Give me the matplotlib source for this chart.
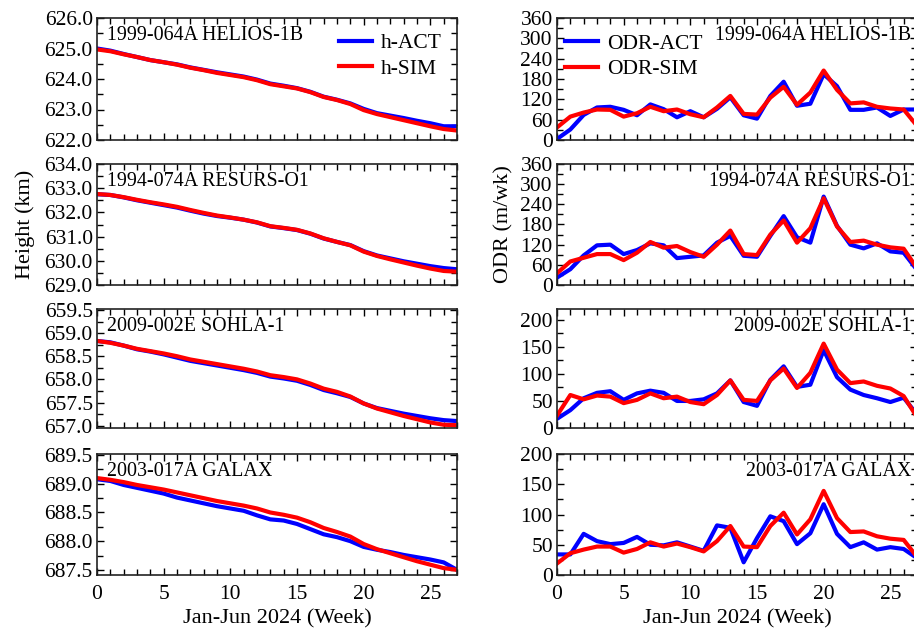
import matplotlib
matplotlib.use("Agg")
import matplotlib.pyplot as plt
from matplotlib.ticker import MultipleLocator, FormatStrFormatter

plt.rcParams["font.family"] = ["Liberation Serif", "DejaVu Serif"]

weeks = list(range(28))

sat_names = ["1999-064A HELIOS-1B", "1994-074A RESURS-O1",
             "2009-002E SOHLA-1", "2003-017A GALAX"]

# height (km)
h_act_helios = [625.00, 624.93, 624.82, 624.72, 624.62, 624.55, 624.48, 624.38, 624.30, 624.22,
                624.15, 624.08, 623.98, 623.85, 623.78, 623.70, 623.58, 623.42, 623.32, 623.20,
                623.02, 622.88, 622.80, 622.72, 622.63, 622.55, 622.45, 622.45]
h_sim_helios = [624.97, 624.91, 624.81, 624.72, 624.62, 624.55, 624.47, 624.37, 624.29, 624.20,
                624.13, 624.06, 623.96, 623.83, 623.76, 623.69, 623.57, 623.41, 623.31, 623.18,
                622.98, 622.85, 622.75, 622.65, 622.55, 622.45, 622.36, 622.31]
h_act_resurs = [632.75, 632.72, 632.62, 632.50, 632.40, 632.30, 632.20, 632.07, 631.95, 631.85,
                631.78, 631.70, 631.58, 631.42, 631.35, 631.27, 631.12, 630.92, 630.78, 630.65,
                630.40, 630.22, 630.10, 629.98, 629.88, 629.78, 629.70, 629.65]
h_sim_resurs = [632.76, 632.72, 632.63, 632.52, 632.42, 632.33, 632.23, 632.10, 631.98, 631.87,
                631.79, 631.70, 631.59, 631.43, 631.36, 631.28, 631.13, 630.93, 630.78, 630.64,
                630.38, 630.20, 630.06, 629.93, 629.80, 629.68, 629.58, 629.55]
h_act_sohla = [658.83, 658.80, 658.73, 658.65, 658.60, 658.54, 658.47, 658.40, 658.35, 658.30,
               658.25, 658.20, 658.14, 658.06, 658.02, 657.97, 657.88, 657.77, 657.70, 657.62,
               657.48, 657.38, 657.32, 657.26, 657.21, 657.16, 657.12, 657.10]
h_sim_sohla = [658.83, 658.79, 658.73, 658.66, 658.61, 658.56, 658.50, 658.43, 658.38, 658.33,
               658.28, 658.23, 658.17, 658.09, 658.05, 658.00, 657.91, 657.80, 657.73, 657.63,
               657.48, 657.37, 657.29, 657.21, 657.14, 657.07, 657.02, 657.01]
h_act_galax = [689.08, 689.05, 688.98, 688.93, 688.88, 688.83, 688.76, 688.71, 688.66, 688.61,
               688.57, 688.53, 688.45, 688.38, 688.36, 688.30, 688.21, 688.12, 688.07, 688.00,
               687.90, 687.85, 687.81, 687.76, 687.72, 687.68, 687.63, 687.50]
h_sim_galax = [689.10, 689.07, 689.03, 688.98, 688.94, 688.90, 688.85, 688.80, 688.75, 688.70,
               688.66, 688.62, 688.57, 688.50, 688.46, 688.41, 688.33, 688.23, 688.16, 688.08,
               687.95, 687.86, 687.79, 687.72, 687.65, 687.59, 687.53, 687.50]

# orbit decay rate (m/wk)
odr_act_helios = [3, 31, 74, 96, 98, 89, 73, 105, 91, 67, 85, 67, 92, 126, 73, 63, 130, 172, 101, 107,
                  194, 159, 89, 89, 96, 71, 90, 90]
odr_sim_helios = [37, 69, 81, 90, 89, 69, 79, 98, 85, 90, 76, 67, 96, 130, 77, 75, 125, 157, 104, 140,
                  205, 148, 108, 111, 98, 93, 90, 42]
odr_act_resurs = [22, 47, 88, 118, 120, 92, 104, 124, 118, 80, 84, 88, 126, 146, 87, 84, 146, 205, 142, 126,
                  263, 176, 120, 109, 124, 100, 96, 45]
odr_sim_resurs = [35, 70, 81, 92, 92, 74, 96, 128, 111, 116, 98, 84, 120, 162, 92, 89, 150, 192, 126, 169,
                  258, 174, 128, 132, 120, 112, 108, 50]
odr_act_sohla = [17, 33, 55, 65, 68, 52, 64, 69, 65, 50, 50, 53, 64, 88, 48, 41, 89, 114, 76, 80,
                 144, 94, 71, 61, 55, 48, 56, 25]
odr_sim_sohla = [23, 61, 53, 60, 58, 46, 52, 64, 55, 58, 48, 44, 61, 88, 52, 50, 88, 110, 74, 102,
                 156, 108, 83, 86, 78, 73, 59, 20]
odr_act_galax = [34, 34, 68, 56, 51, 53, 63, 50, 49, 54, 47, 40, 82, 78, 21, 61, 97, 89, 51, 69,
                 117, 68, 46, 54, 42, 46, 43, 28]
odr_sim_galax = [19, 36, 42, 47, 47, 37, 43, 54, 47, 52, 46, 39, 56, 81, 47, 46, 81, 103, 67, 92,
                 139, 94, 71, 72, 64, 60, 58, 30]

h_act = [h_act_helios, h_act_resurs, h_act_sohla, h_act_galax]
h_sim = [h_sim_helios, h_sim_resurs, h_sim_sohla, h_sim_galax]
odr_act = [odr_act_helios, odr_act_resurs, odr_act_sohla, odr_act_galax]
odr_sim = [odr_sim_helios, odr_sim_resurs, odr_sim_sohla, odr_sim_galax]

h_lims = [(622.0, 626.0), (629.0, 634.0), (656.95, 659.52), (687.41, 689.52)]
h_steps = [(1.0, 0.5), (1.0, 0.5), (0.5, 0.25), (0.5, 0.25)]
odr_lims = [(0, 360), (0, 360), (0, 220), (0, 200)]
odr_steps = [(60, 30), (60, 30), (50, 25), (50, 25)]

W, H = 914, 628
rows_px = [(18, 140), (164, 285), (309, 428), (454, 575)]
FS = 15.5
FS_NAME = 14.4
BLUE, RED = "#0000ff", "#ff0000"


def style(ax, major, minor, fmt):
    ax.set_xlim(0, 27)
    ax.xaxis.set_major_locator(MultipleLocator(5))
    ax.xaxis.set_minor_locator(MultipleLocator(1))
    ax.yaxis.set_major_locator(MultipleLocator(major))
    ax.yaxis.set_minor_locator(MultipleLocator(minor))
    ax.yaxis.set_major_formatter(FormatStrFormatter(fmt))
    ax.tick_params(which="both", direction="in", top=True, right=True, labelsize=FS,
                   width=1.0, pad=3)
    ax.tick_params(axis="x", which="both", pad=7)
    ax.tick_params(which="major", length=5)
    ax.tick_params(which="minor", length=4)
    for s in ax.spines.values():
        s.set_linewidth(1.2)
        s.set_color("#222222")


fig = plt.figure(figsize=(W / 100, H / 100), dpi=100)

for i, (top, bot) in enumerate(rows_px):
    y0 = 1 - bot / H
    hh = (bot - top) / H

    axl = fig.add_axes([97 / W, y0, 360 / W, hh])
    axl.plot(weeks, h_act[i], color=BLUE, lw=3.0, label="h-ACT")
    axl.plot(weeks, h_sim[i], color=RED, lw=3.0, label="h-SIM")
    axl.set_ylim(*h_lims[i])
    style(axl, h_steps[i][0], h_steps[i][1], "%.1f")
    axl.text(10 / 360, 1 - 18 / (bot - top), sat_names[i], transform=axl.transAxes,
             ha="left", va="center", fontsize=FS_NAME)

    axr = fig.add_axes([557 / W, y0, 360 / W, hh])
    axr.plot(weeks, odr_act[i], color=BLUE, lw=3.0, label="ODR-ACT")
    axr.plot(weeks, odr_sim[i], color=RED, lw=3.0, label="ODR-SIM")
    axr.set_ylim(*odr_lims[i])
    style(axr, odr_steps[i][0], odr_steps[i][1], "%d")
    axr.text(1 - 6 / 360, 1 - 18 / (bot - top), sat_names[i], transform=axr.transAxes,
             ha="right", va="center", fontsize=FS_NAME)

    if i == 0:
        axl.legend(loc="upper right", bbox_to_anchor=(1.0, 1.0), frameon=False, fontsize=FS,
                   handlelength=1.55, handletextpad=0.4, labelspacing=0.25, borderaxespad=0.3)
        axr.legend(loc="upper left", bbox_to_anchor=(-0.02, 0.995), frameon=False, fontsize=FS,
                   handlelength=1.55, handletextpad=0.4, labelspacing=0.25, borderaxespad=0.3)
    if i == 1:
        axl.set_ylabel("Height (km)", fontsize=FS + 0.5, labelpad=7)
        axr.set_ylabel("ODR (m/wk)", fontsize=FS + 0.5, labelpad=5)
    if i == 3:
        axl.set_xlabel("Jan-Jun 2024 (Week)", fontsize=FS + 0.5, labelpad=4)
        axr.set_xlabel("Jan-Jun 2024 (Week)", fontsize=FS + 0.5, labelpad=4)
    else:
        axl.tick_params(labelbottom=False)
        axr.tick_params(labelbottom=False)

fig.savefig("out.png", dpi=100)
